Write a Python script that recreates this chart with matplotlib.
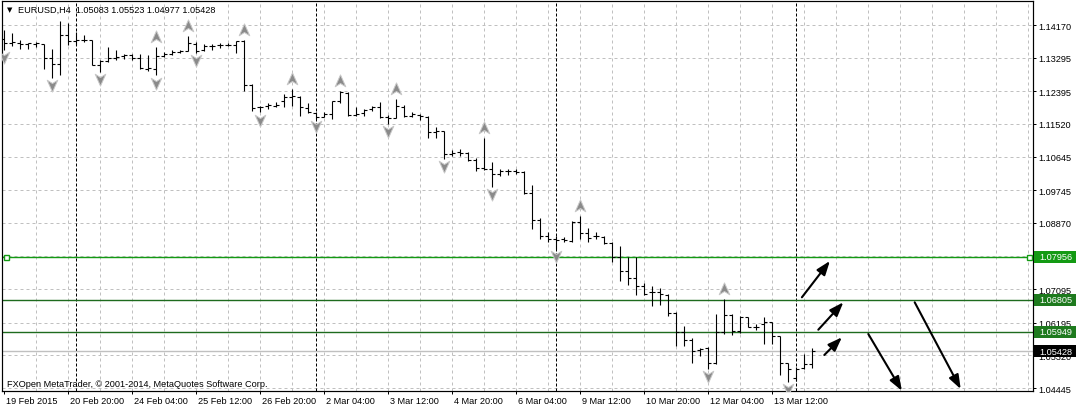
import matplotlib
matplotlib.use("Agg")
import matplotlib.pyplot as plt
import matplotlib.transforms as mtransforms
from matplotlib.path import Path
from matplotlib.patches import Rectangle
import numpy as np

plt.rcParams['font.family'] = ['Liberation Sans', 'DejaVu Sans']

# EURUSD H4 bars, first bar = 19 Feb 2015 12:00
opens = [1.13795, 1.13690, 1.13696, 1.13661, 1.13670, 1.13653, 1.13287, 1.13126, 1.13894, 1.13742,
         1.13776, 1.13760, 1.13091, 1.13198, 1.13290, 1.13332, 1.13358, 1.13294, 1.13000, 1.13000,
         1.13332, 1.13401, 1.13460, 1.13474, 1.13670, 1.13492, 1.13595, 1.13622, 1.13640, 1.13626,
         1.13742, 1.12571, 1.11966, 1.12005, 1.12009, 1.12142, 1.12245, 1.12250, 1.11947, 1.11805,
         1.11714, 1.11786, 1.12142, 1.12360, 1.11768, 1.11805, 1.11920, 1.11982, 1.11697, 1.11679,
         1.11982, 1.11741, 1.11768, 1.11714, 1.11296, 1.11322, 1.10714, 1.10759, 1.10732, 1.10553,
         1.10339, 1.10312, 1.10179, 1.10267, 1.10250, 1.10223, 1.09661, 1.08946, 1.08526, 1.08437,
         1.08430, 1.08392, 1.08901, 1.08598, 1.08509, 1.08482, 1.08330, 1.07946, 1.07587, 1.07383,
         1.07169, 1.07008, 1.07008, 1.06937, 1.06455, 1.05954, 1.05740, 1.05471, 1.05509, 1.05115,
         1.05954, 1.06401, 1.05981, 1.06339, 1.06071, 1.06160, 1.06205, 1.05847, 1.05115, 1.04704,
         1.04972, 1.05083]
highs = [1.14044, 1.13956, 1.13776, 1.13696, 1.13715, 1.13660, 1.13519, 1.14269, 1.14224, 1.13983,
         1.13894, 1.13776, 1.13225, 1.13581, 1.13492, 1.13401, 1.13401, 1.13401, 1.13358, 1.13581,
         1.13447, 1.13492, 1.13508, 1.13867, 1.13715, 1.13653, 1.13653, 1.13688, 1.13688, 1.13742,
         1.13776, 1.12590, 1.12009, 1.12073, 1.12100, 1.12322, 1.12456, 1.12277, 1.12073, 1.11831,
         1.11831, 1.12142, 1.12411, 1.12367, 1.11966, 1.11920, 1.12009, 1.12100, 1.11768, 1.12188,
         1.12036, 1.11831, 1.11786, 1.11741, 1.11429, 1.11338, 1.10821, 1.10848, 1.10759, 1.10607,
         1.11143, 1.10491, 1.10312, 1.10312, 1.10312, 1.10250, 1.09892, 1.09000, 1.08616, 1.08526,
         1.08482, 1.08928, 1.09046, 1.08724, 1.08616, 1.08526, 1.08348, 1.08241, 1.07946, 1.07946,
         1.07258, 1.07169, 1.07115, 1.06964, 1.06490, 1.06098, 1.05777, 1.05509, 1.05535, 1.06428,
         1.06830, 1.06428, 1.06383, 1.06345, 1.06160, 1.06339, 1.06210, 1.05850, 1.05120, 1.04999,
         1.05356, 1.05523]
lows = [1.13508, 1.13599, 1.13535, 1.13535, 1.13581, 1.13000, 1.12751, 1.12839, 1.13626, 1.13634,
        1.13715, 1.13091, 1.12911, 1.13180, 1.13241, 1.13268, 1.13224, 1.13000, 1.12938, 1.12823,
        1.13313, 1.13358, 1.13420, 1.13470, 1.13420, 1.13474, 1.13508, 1.13562, 1.13599, 1.13420,
        1.12394, 1.11875, 1.11831, 1.11920, 1.11966, 1.11966, 1.12009, 1.11741, 1.11805, 1.11652,
        1.11697, 1.11652, 1.12073, 1.11741, 1.11741, 1.11741, 1.11875, 1.11679, 1.11518, 1.11670,
        1.11697, 1.11697, 1.11625, 1.11143, 1.11143, 1.10580, 1.10669, 1.10669, 1.10535, 1.10250,
        1.10285, 1.09840, 1.10134, 1.10160, 1.10179, 1.09643, 1.08705, 1.08437, 1.08348, 1.08169,
        1.08365, 1.08365, 1.08437, 1.08365, 1.08437, 1.08303, 1.07829, 1.07319, 1.07205, 1.06937,
        1.06937, 1.06651, 1.06669, 1.06365, 1.05579, 1.05562, 1.05115, 1.05311, 1.04954, 1.05088,
        1.05892, 1.05865, 1.05919, 1.06071, 1.06008, 1.05624, 1.05624, 1.04793, 1.04614, 1.04641,
        1.04960, 1.04977]
closes = [1.13696, 1.13705, 1.13661, 1.13688, 1.13675, 1.13287, 1.13126, 1.13894, 1.13742, 1.13776,
          1.13760, 1.13100, 1.13198, 1.13294, 1.13300, 1.13358, 1.13294, 1.13027, 1.13005, 1.13332,
          1.13385, 1.13439, 1.13470, 1.13688, 1.13474, 1.13599, 1.13605, 1.13630, 1.13645, 1.13742,
          1.12571, 1.11947, 1.11982, 1.12015, 1.12036, 1.12250, 1.12255, 1.11966, 1.11831, 1.11714,
          1.11786, 1.12142, 1.12367, 1.11768, 1.11786, 1.11893, 1.11966, 1.11714, 1.11679, 1.12009,
          1.11741, 1.11786, 1.11741, 1.11296, 1.11322, 1.10714, 1.10732, 1.10732, 1.10553, 1.10339,
          1.10312, 1.10179, 1.10267, 1.10250, 1.10223, 1.09661, 1.08946, 1.08526, 1.08437, 1.08420,
          1.08420, 1.08901, 1.08598, 1.08455, 1.08526, 1.08330, 1.07946, 1.07587, 1.07383, 1.07169,
          1.06964, 1.07012, 1.06964, 1.06455, 1.05954, 1.05740, 1.05445, 1.05480, 1.05115, 1.05954,
          1.06401, 1.05981, 1.06339, 1.06071, 1.06075, 1.06205, 1.05847, 1.05115, 1.04954, 1.04954,
          1.05088, 1.05428]

# fractals (bar numbers)
up_fractals = [19, 23, 30, 36, 42, 49, 60, 72, 90]
down_fractals = [0, 6, 12, 19, 24, 32, 39, 48, 55, 61, 69, 88, 98]

# week separators (monday 00:00)
week_starts = [9, 39, 69, 99]

date_ticks = [0, 8, 16, 24, 32, 40, 48, 56, 64, 72, 80, 88, 96]
date_labels = ['19 Feb 2015', '20 Feb 20:00', '24 Feb 04:00', '25 Feb 12:00', '26 Feb 20:00',
               '2 Mar 04:00', '3 Mar 12:00', '4 Mar 20:00', '6 Mar 04:00', '9 Mar 12:00',
               '10 Mar 20:00', '12 Mar 04:00', '13 Mar 12:00']

price_ticks = [1.14170, 1.13295, 1.12395, 1.11520, 1.10645, 1.09745, 1.08870, 1.07995,
               1.07095, 1.06195, 1.05320, 1.04445]

# horizontal levels
level_main = 1.07956
levels_dark = [1.06805, 1.05949]
bid = closes[-1]

# hand drawn arrows (bar, price)
arrow_x0 = [99.8, 101.85, 102.6, 108.1, 113.9]
arrow_y0 = [1.06875, 1.06007, 1.05329, 1.05892, 1.06741]
arrow_x1 = [103.3, 104.98, 104.8, 112.3, 119.65]
arrow_y1 = [1.07848, 1.06741, 1.05803, 1.04372, 1.04418]

W, H = 1076, 410
fig = plt.figure(figsize=(W / 100, H / 100), dpi=100)
ax = fig.add_axes([2 / W, 18 / H, 1031 / W, 390 / H])
ymin, ymax = 1.04365, 1.14813
ax.set_xlim(-0.1875, 128.6875)
ax.set_ylim(ymin, ymax)

px = 0.72  # 1 pixel in points

# grid
for xg in np.arange(4, 129, 4):
    ax.axvline(xg, color='#c0c0c0', lw=px, ls=(0, (3, 3)), zorder=0)
for yg in price_ticks:
    ax.axhline(yg, color='#c0c0c0', lw=px, ls=(0, (3, 3)), zorder=0)
for xs in week_starts:
    ax.axvline(xs, color='black', lw=px, ls=(0, (3, 2)), zorder=1)

# lines
ax.axhline(bid, color='#c0c0c0', lw=px * 1.4, zorder=1)
for lv in levels_dark:
    ax.axhline(lv, color='#1e6b1e', lw=px * 1.4, zorder=2)
ax.axhline(level_main, color='#139a13', lw=px * 1.4, zorder=2)
blend = mtransforms.blended_transform_factory(ax.transAxes, ax.transData)
ax.plot([0.0035, 0.9965], [level_main, level_main], transform=blend, ls='none', marker='s',
        ms=3.6, mfc='white', mec='#139a13', mew=1.0, zorder=3)

# bars
idx = np.arange(len(opens))
ax.vlines(idx, lows, highs, color='black', lw=px * 1.1, zorder=4)
ax.hlines(opens, idx - 0.375, idx, color='black', lw=px * 1.1, zorder=4)
ax.hlines(closes, idx, idx + 0.375, color='black', lw=px * 1.1, zorder=4)

# fractal arrows
up_path = Path([(0, 1), (0.8, -0.8), (0, -0.3), (-0.8, -0.8), (0, 1)],
               [Path.MOVETO, Path.LINETO, Path.LINETO, Path.LINETO, Path.CLOSEPOLY])
down_path = Path([(0, -1), (0.8, 0.8), (0, 0.3), (-0.8, 0.8), (0, -1)],
                 [Path.MOVETO, Path.LINETO, Path.LINETO, Path.LINETO, Path.CLOSEPOLY])
up_tr = mtransforms.offset_copy(ax.transData, fig=fig, x=0, y=7.2, units='points')
dn_tr = mtransforms.offset_copy(ax.transData, fig=fig, x=0, y=-5.2, units='points')
ax.plot(up_fractals, [highs[i] for i in up_fractals], transform=up_tr, ls='none',
        marker=up_path, ms=9.5, mfc='#8a8a8a', mec='#c8c8c8', mew=0.7, zorder=5)
ax.plot(down_fractals, [lows[i] for i in down_fractals], transform=dn_tr, ls='none',
        marker=down_path, ms=9.5, mfc='#8a8a8a', mec='#c8c8c8', mew=0.7, zorder=5)

# arrows
for x0, y0, x1, y1 in zip(arrow_x0, arrow_y0, arrow_x1, arrow_y1):
    ax.annotate('', xy=(x1, y1), xytext=(x0, y0),
                arrowprops=dict(arrowstyle='-|>,head_length=0.6,head_width=0.22', color='black',
                                lw=1.5, mutation_scale=14, shrinkA=0, shrinkB=0), zorder=6)

# axes
for sp in ax.spines.values():
    sp.set_color('black')
    sp.set_linewidth(px * 1.2)
ax.yaxis.tick_right()
ax.set_yticks(price_ticks)
ax.set_yticklabels(['%.5f' % p for p in price_ticks])
ax.set_xticks(date_ticks)
ax.set_xticklabels(date_labels, ha='left')
ax.tick_params(axis='both', direction='out', length=2.2, width=px, labelsize=6.6, colors='black')
ax.tick_params(axis='y', pad=2)
ax.tick_params(axis='x', pad=1.5)
shift = mtransforms.ScaledTranslation(2 / 100, 0, fig.dpi_scale_trans)
for lab in ax.get_xticklabels():
    lab.set_transform(lab.get_transform() + shift)

# price boxes on the right
box_h = 12 / 390 * (ymax - ymin)
fblend = mtransforms.blended_transform_factory(fig.transFigure, ax.transData)
boxes = [(level_main, '#139a13'), (levels_dark[0], '#1e7a1e'), (levels_dark[1], '#1e7a1e'), (bid, 'black')]
for val, col in boxes:
    ax.add_patch(Rectangle((1034 / W, val - box_h / 2), 42 / W, box_h, transform=fblend,
                           facecolor=col, edgecolor='none', clip_on=False, zorder=10))
    ax.text(1039 / W, val, '%.5f' % val, transform=fblend, color='white', fontsize=6.6,
            va='center', ha='left', clip_on=False, zorder=11)

# texts
fig.text(7 / W, 1 - 10 / H, '\u25bc', fontsize=5, va='center', ha='left', family='DejaVu Sans')
fig.text(18 / W, 1 - 10 / H, 'EURUSD,H4  %.5f %.5f %.5f %.5f' % (opens[-1], highs[-1], lows[-1], closes[-1]),
         fontsize=6.6, va='center', ha='left')
fig.text(7 / W, 1 - 385 / H, 'FXOpen MetaTrader, \u00a9 2001-2014, MetaQuotes Software Corp.',
         fontsize=6.6, va='center', ha='left')

fig.savefig('out.png', dpi=100, facecolor='white')
